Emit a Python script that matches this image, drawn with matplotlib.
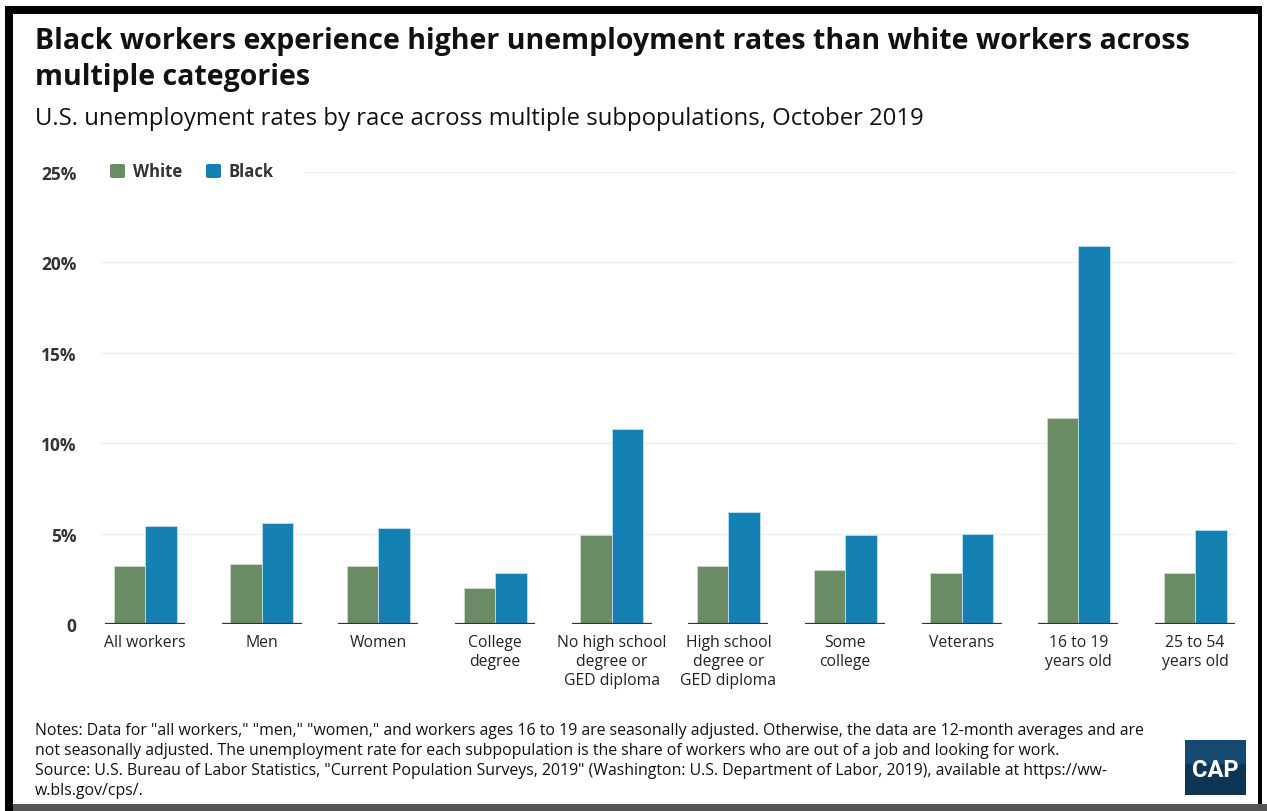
import matplotlib.pyplot as plt
import matplotlib.patches as mpatches
import numpy as np

plt.rcParams['font.family'] = ['Open Sans', 'DejaVu Sans']

# data (percent)
categories = ["All workers", "Men", "Women", "College\ndegree",
              "No high school\ndegree or\nGED diploma",
              "High school\ndegree or\nGED diploma", "Some\ncollege",
              "Veterans", "16 to 19\nyears old", "25 to 54\nyears old"]
white = [3.2, 3.3, 3.2, 2.0, 4.9, 3.2, 3.0, 2.8, 11.4, 2.8]
black = [5.4, 5.6, 5.3, 2.8, 10.8, 6.2, 4.9, 5.0, 20.9, 5.2]
yticks = [0, 5, 10, 15, 20, 25]
ytick_labels = ["0", "5%", "10%", "15%", "20%", "25%"]

GREEN = "#6a8c65"
BLUE = "#1580b2"
W, H = 1267, 812

fig = plt.figure(figsize=(W / 100, H / 100), dpi=100)
fig.patch.set_facecolor("white")

# frame around the graphic
def frame_rect(x0, y0, x1, y1, color):
    fig.add_artist(mpatches.Rectangle((x0 / W, 1 - y1 / H), (x1 - x0) / W, (y1 - y0) / H,
                                      transform=fig.transFigure, color=color, lw=0))

frame_rect(5, 7, 13, 812, "black")
frame_rect(5, 7, 1262, 15, "black")
frame_rect(1258, 7, 1262, 805, "black")
frame_rect(13, 805, 1267, 812, "#555555")

ax = fig.add_axes([100 / W, 1 - 625 / H, 1137 / W, (625 - 173) / H])
x = np.arange(len(categories))
bw = 0.27
ax.bar(x - bw / 2, white, bw, color=GREEN, edgecolor="#cfdccd", linewidth=0.6, zorder=3)
ax.bar(x + bw / 2, black, bw, color=BLUE, edgecolor="#bfe0ef", linewidth=0.6, zorder=3)

ax.set_xlim(-0.386, 9.36)
ax.set_ylim(0, 25)
for t in yticks[1:]:
    xmin = 0.18 if t == 25 else 0
    ax.axhline(t, xmin=xmin, color="#efefef", lw=1, zorder=1)
ax.hlines([0] * len(x), x - 0.343, x + 0.343, color="#333333", lw=1.6, zorder=4)

for s in ax.spines.values():
    s.set_visible(False)
ax.set_yticks(yticks)
ax.set_yticklabels(ytick_labels, fontsize=12.5, fontweight="bold", color="#333333")
ax.tick_params(axis="y", length=0, pad=17)
ax.set_xticks(x)
ax.set_xticklabels(categories, fontsize=11.3, color="#222222", linespacing=1.25, va="top")
ax.tick_params(axis="x", length=0, pad=7)

# legend
for lx, col, lab in [(110, GREEN, "White"), (206, BLUE, "Black")]:
    fig.add_artist(mpatches.FancyBboxPatch((lx / W, 1 - 179 / H), 15 / W, 14 / H,
                                           boxstyle="round,pad=0,rounding_size=0.002",
                                           transform=fig.transFigure, color=col, lw=0))
    fig.text((lx + 23) / W, 1 - 172 / H, lab, fontsize=12, fontweight="bold",
             color="#333333", va="center", ha="left")

# titles
fig.text(35 / W, 1 - 42 / H, "Black workers experience higher unemployment rates than white workers across",
         fontsize=20.5, fontweight="bold", color="#111111", va="center")
fig.text(35 / W, 1 - 78 / H, "multiple categories",
         fontsize=20.5, fontweight="bold", color="#111111", va="center")
fig.text(35 / W, 1 - 119 / H,
         "U.S. unemployment rates by race across multiple subpopulations, October 2019",
         fontsize=17.2, color="#111111", va="center")

notes = [
    "Notes: Data for \"all workers,\" \"men,\" \"women,\" and workers ages 16 to 19 are seasonally adjusted. Otherwise, the data are 12-month averages and are",
    "not seasonally adjusted. The unemployment rate for each subpopulation is the share of workers who are out of a job and looking for work.",
    "Source: U.S. Bureau of Labor Statistics, \"Current Population Surveys, 2019\" (Washington: U.S. Department of Labor, 2019), available at https://ww-",
    "w.bls.gov/cps/.",
]
for i, line in enumerate(notes):
    fig.text(35 / W, 1 - (731 + 20 * i) / H, line, fontsize=11.4, color="#111111", va="center")

# CAP logo
fig.add_artist(mpatches.Rectangle((1185 / W, 1 - 796 / H), 61 / W, 55 / H,
                                  transform=fig.transFigure, color="#0d3556", lw=0))
fig.add_artist(mpatches.Rectangle((1185 / W, 1 - 765 / H), 61 / W, 24 / H,
                                  transform=fig.transFigure, color="#164a70", lw=0))
fig.text(1215.5 / W, 1 - 771 / H, "CAP", fontsize=17, fontweight="bold", color="white",
         ha="center", va="center", family=["Roboto", "DejaVu Sans"])

fig.savefig("out.png", dpi=100)
